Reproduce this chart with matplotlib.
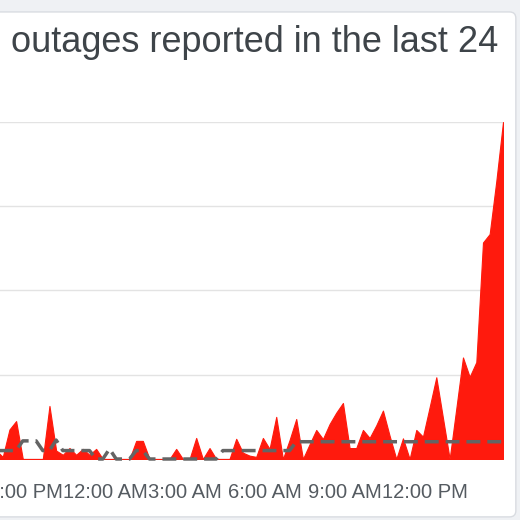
import numpy as np
import pandas as pd
import matplotlib
matplotlib.use('Agg')
import matplotlib.pyplot as plt
import matplotlib.dates as mdates
from matplotlib.patches import FancyBboxPatch

# reports per 15 minutes (visible part of the 24h window)
reports = [2, 0.5, 7, 9, 0, 0, 0, 0, 12.6, 2, 1, 2.6, 1, 2.4, 1, 2.4,
           0, 0, 0, 0, 0, 4.3, 4.3, 0, 0, 0, 0, 2.4, 0, 0, 5, 0,
           2.6, 0, 0, 0, 4.8, 1.5, 0.8, 0.5, 5, 2.4, 10, 0, 4.5, 9.5,
           0, 3.5, 6.9, 4.75, 8.3, 11, 13.3, 2.6, 2.6, 6.9, 5, 8, 11.5, 5.5,
           0, 4.9, 0, 6.9, 5.3, 12.3, 19.4, 9.7, 0, 12, 24.1, 19.5, 23,
           51.4, 53.4, 66, 80]

# typical number of reports (gray dashed baseline)
baseline = [2, 2, 2, 2, 4.3, 4.3, 4.3, 2, 2, 4.5, 2, 2, 2, 2, 2, 0,
            0, 2.4, 0, 0, 0, 2, 2, 0, 0, 0, 0, 0, 0, 0, 0, 0,
            0, 0, 2, 2, 2, 2, 2, 2, 2, 2, 2, 2, 2, 4.1,
            4.1, 4.1, 4.1, 4.1, 4.1, 4.1, 4.1, 4.1, 4.1, 4.1, 4.1, 4.1, 4.1, 4.1,
            4.1, 4.1, 4.1, 4.1, 4.1, 4.1, 4.1, 4.1, 4.1, 4.1, 4.1, 4.1, 4.1,
            4.1, 4.1, 4.1, 4.1]

start_time = '2019-03-13 19:55'
tick_start = '2019-03-13 21:00'
title = 'outages reported in the last 24'

times = pd.date_range(start_time, periods=len(reports), freq='15min')
ticks = pd.date_range(tick_start, periods=6, freq='3h')

plt.rcParams['font.family'] = ['Liberation Sans', 'DejaVu Sans']
plt.rcParams['lines.scale_dashes'] = False

fig = plt.figure(figsize=(5.2, 5.2), dpi=100, facecolor='#eff1f4')

# white card behind the chart
card = FancyBboxPatch((-0.05, 0.006), 1.042, 0.971,
                      boxstyle='round,pad=0,rounding_size=0.012',
                      transform=fig.transFigure, facecolor='white',
                      edgecolor='#d9dce1', linewidth=1, zorder=-1)
fig.patches.append(card)

fig.text(11 / 520, 1 - 52 / 520, title, fontsize=26, color='#3e4449',
         ha='left', va='baseline')

ax = fig.add_axes([0, 61 / 520, 503 / 520, 337 / 520])
ax.set_facecolor('none')

ax.fill_between(times, reports, color='#ff1a0d', lw=0.8, edgecolor='#ff1a0d',
                zorder=2)
ax.plot(times, baseline, color='#646464', lw=2.5, dashes=(10, 5),
        zorder=3, clip_on=False)

x0 = pd.Timestamp(tick_start) - pd.Timedelta(minutes=56.25)
ax.set_xlim(x0, times[-1])
ax.set_ylim(0, 80)
ax.set_yticks([0, 20, 40, 60, 80])
ax.grid(axis='y', color='#e3e3e3', lw=1)
ax.set_axisbelow(True)

ax.set_xticks(ticks)
ax.xaxis.set_major_formatter(mdates.DateFormatter('%-I:%M %p'))
ax.tick_params(axis='x', length=0, pad=17, labelsize=14.5, labelcolor='#555b61')
ax.tick_params(axis='y', length=0, labelleft=False)
for s in ax.spines.values():
    s.set_visible(False)

fig.savefig('out.png', dpi=100, facecolor=fig.get_facecolor())
